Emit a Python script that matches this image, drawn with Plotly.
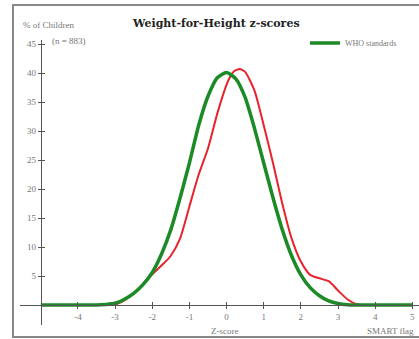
import plotly.graph_objects as go

# Data
z_green = [-5, -4, -3.5, -3.25, -3, -2.75, -2.5, -2.25, -2, -1.75, -1.5, -1.25, -1, -0.75, -0.5, -0.25,
           0, 0.25, 0.5, 0.75, 1, 1.25, 1.5, 1.75, 2, 2.25, 2.5, 2.75, 3, 3.25, 3.5, 4, 5]
who_pct = [0, 0, 0, 0.1, 0.3, 1.0, 2.0, 3.5, 5.6, 8.8, 13.0, 18.5, 24.5, 31.0, 36.0, 39.2,
           40.1, 39.0, 35.8, 30.5, 24.5, 18.5, 13.0, 8.5, 5.2, 3.0, 1.6, 0.7, 0.25, 0.05, 0, 0, 0]

z_red = [-3, -2.75, -2.5, -2.25, -2, -1.75, -1.5, -1.25, -1, -0.75, -0.5, -0.25, 0, 0.1, 0.2,
         0.35, 0.5, 0.75, 1, 1.25, 1.5, 1.75, 2, 2.25, 2.5, 2.75, 3, 3.25, 3.5, 3.75]
obs_pct = [0.05, 0.8, 2.0, 3.6, 5.3, 6.8, 8.5, 11.5, 17.0, 22.5, 27.0, 33.0, 38.0, 39.4, 40.3,
           40.7, 40.2, 37.0, 31.0, 24.5, 17.5, 11.5, 7.5, 5.2, 4.6, 4.1, 2.5, 1.0, 0.15, 0]

x_ticks = [-4, -3, -2, -1, 0, 1, 2, 3, 4, 5]
y_ticks = [5, 10, 15, 20, 25, 30, 35, 40, 45]

title_text = "Weight-for-Height z-scores"
y_label = "% of Children"
n_label = "(n = 883)"
x_label = "Z-score"
flag_label = "SMART flag"
legend_name = "WHO standards"

W, H = 419, 339
ML, MR, MT, MB = 20, 0, 40, 14
XR = [-5.56, 5.18]
YR = [-3.45, 45.7]

def px_to_paper_x(px):
    return (px - ML) / (W - ML - MR)

def px_to_paper_y(py):
    return (H - MB - py) / (H - MT - MB)

xpos = (0 - YR[0]) / (YR[1] - YR[0])
ypos = (-5 - XR[0]) / (XR[1] - XR[0])

FONT = "Liberation Serif"
GRAY = "#777777"

fig = go.Figure()
fig.add_trace(go.Scatter(x=z_red, y=obs_pct, mode="lines", line=dict(color="#e8232b", width=2, shape="spline", smoothing=0.6),
                         showlegend=False, name="Observed"))
fig.add_trace(go.Scatter(x=z_green, y=who_pct, mode="lines", line=dict(color="#1c8a26", width=3.5, shape="spline", smoothing=0.6),
                         name=legend_name))
fig.add_trace(go.Scatter(x=[None], y=[None], xaxis="x2", yaxis="y2", showlegend=False, hoverinfo="skip"))

axis_common = dict(showgrid=False, zeroline=False, linecolor="#555555", linewidth=1,
                   tickcolor="#555555", ticklen=3, tickwidth=1,
                   tickfont=dict(family=FONT, size=9, color=GRAY))

fig.update_layout(
    width=W, height=H,
    margin=dict(l=ML, r=MR, t=MT, b=MB),
    paper_bgcolor="white", plot_bgcolor="white",
    xaxis=dict(range=XR, anchor="free", position=xpos, showline=True, ticks="outside",
               tickmode="array", tickvals=x_ticks, ticktext=[str(v) for v in x_ticks], **axis_common),
    yaxis=dict(range=YR, anchor="free", position=ypos, showline=True, ticks="outside",
               tickmode="array", tickvals=y_ticks, ticktext=[str(v) for v in y_ticks], **axis_common),
    xaxis2=dict(range=XR, overlaying="x", anchor="free", position=xpos, showline=False, ticks="inside",
                tickmode="array", tickvals=x_ticks, showticklabels=False, **axis_common),
    yaxis2=dict(range=YR, overlaying="y", anchor="free", position=ypos, showline=False, ticks="inside",
                tickmode="array", tickvals=y_ticks, showticklabels=False, **axis_common),
    showlegend=True,
    legend=dict(x=px_to_paper_x(305), y=px_to_paper_y(43), xanchor="left", yanchor="middle",
                bgcolor="rgba(0,0,0,0)", itemwidth=30,
                font=dict(family=FONT, size=8, color=GRAY)),
    shapes=[dict(type="rect", xref="paper", yref="paper",
                 x0=px_to_paper_x(13), x1=px_to_paper_x(440),
                 y0=px_to_paper_y(337), y1=px_to_paper_y(5),
                 line=dict(color="#888888", width=2), layer="below")],
    annotations=[
        dict(text="<b>" + title_text + "</b>", xref="paper", yref="paper", x=px_to_paper_x(216), y=px_to_paper_y(23),
             xanchor="center", yanchor="middle", showarrow=False, font=dict(family="DejaVu Serif", size=11, color="#222222")),
        dict(text=y_label, xref="paper", yref="paper", x=px_to_paper_x(21), y=px_to_paper_y(25),
             xanchor="left", yanchor="middle", showarrow=False, font=dict(family=FONT, size=9, color=GRAY)),
        dict(text=n_label, xref="paper", yref="paper", x=px_to_paper_x(50), y=px_to_paper_y(41),
             xanchor="left", yanchor="middle", showarrow=False, font=dict(family=FONT, size=9, color=GRAY)),
        dict(text=x_label, xref="paper", yref="paper", x=px_to_paper_x(224), y=px_to_paper_y(331),
             xanchor="center", yanchor="middle", showarrow=False, font=dict(family=FONT, size=9, color=GRAY)),
        dict(text=flag_label, xref="paper", yref="paper", x=px_to_paper_x(365), y=px_to_paper_y(331),
             xanchor="left", yanchor="middle", showarrow=False, font=dict(family=FONT, size=9, color=GRAY)),
    ],
)

fig.write_html("out.html")
